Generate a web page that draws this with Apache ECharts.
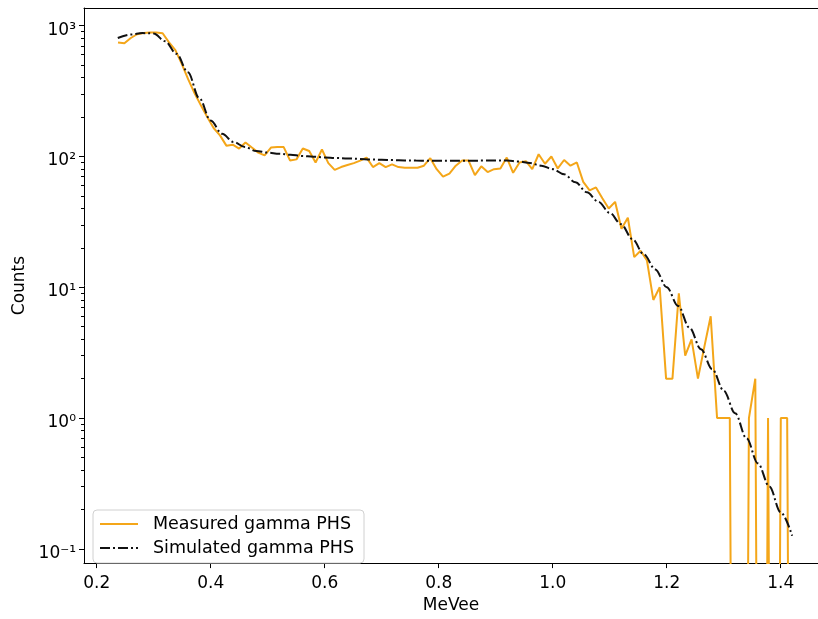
<!DOCTYPE html>
<html>
<head>
<meta charset="utf-8">
<script src="https://cdn.jsdelivr.net/npm/echarts@6/dist/echarts.min.js"></script>
<style>
html,body{margin:0;padding:0;background:#fff;}
#chart{width:818px;height:619px;}
</style>
</head>
<body>
<div id="chart"></div>
<script>
// measured gamma PHS, one count per bin (MeVee)
const binStart = 0.2374
const binWidth = 0.01118
const measured = [745,735,805,860,880,885,885,875,745,650,
  510,390,305,246,200,165,145,121,123,115,
  128,117,107,102,117,118,118,93,95,115,
  110,90,113,89,79,83,86,89,93,98,
  83,89,83,87,83,82,82,82,85,97,
  80,70,74,85,93,93,72,84,76,80,
  81,98,75,90,92,80,104,88,100,81,
  94,85,90,64,55,58,48,40,45,28,
  34,17,19,16,8,10,2,2,9,3,
  4,2,3.5,6,1,1,1,0,0,1,
  2,0,1,0,1,1,0]

// simulated gamma PHS
const simE = [0.237,0.26,0.28,0.30,0.32,0.34,0.36,0.38,0.40,0.42,
  0.44,0.46,0.48,0.50,0.52,0.54,0.56,0.58,0.60,0.62,
  0.64,0.66,0.68,0.70,0.72,0.74,0.76,0.78,0.80,0.82,
  0.84,0.86,0.88,0.90,0.92,0.94,0.96,0.98,1.00,1.02,
  1.04,1.06,1.08,1.10,1.12,1.14,1.16,1.18,1.20,1.22,
  1.24,1.26,1.28,1.30,1.32,1.34,1.36,1.38,1.40,1.42]
const simCounts = [805,856,878,872,760,610,440,278,188,149,
  129,118,110,107,105,103,101,99.5,98.3,97.4,
  96.6,95.8,95,94.4,93.8,93.3,93,92.8,92.8,92.8,
  92.8,92.8,93,93,93,91.5,89,85,80,73,
  63.4,53.2,45.1,37,30.3,23.3,17.8,13.7,10,7.2,
  4.9,3.36,2.36,1.62,1.09,0.70,0.45,0.30,0.19,0.126]

const xTicks = [0.2,0.4,0.6,0.8,1.0,1.2,1.4]
const yTicks = [0.1,1,10,100,1000]
const yMinor = [0.2,0.3,0.4,0.5,0.6,0.7,0.8,0.9,2,3,4,5,6,7,8,9,
  20,30,40,50,60,70,80,90,200,300,400,500,600,700,800,900]
const supers = {'-1':'10⁻¹','0':'10⁰','1':'10¹','2':'10²','3':'10³'}

const font = 'DejaVu Sans'
const xMin = 0.1777, xMax = 1.4654
const yMin = 0.0778, yMax = 1365

const chart = echarts.init(document.getElementById('chart'))

// zero counts can't sit on a log axis, push them far below the frame (clipped)
const measuredData = measured.map((c, i) => [binStart + i * binWidth, c > 0 ? c : 1e-9])
const simData = simE.map((e, i) => [e, simCounts[i]])

const option = {
  animation: false,
  textStyle: {fontFamily: font},
  grid: {left: 84, right: 0, top: 8, bottom: 47},
  legend: {
    orient: 'vertical',
    left: 93,
    top: 510,
    itemWidth: 38,
    itemHeight: 14,
    itemGap: 4,
    padding: [4, 10, 5, 6],
    borderColor: '#d0d0d0',
    borderWidth: 1,
    borderRadius: 4,
    backgroundColor: 'rgba(255,255,255,0.8)',
    // hide the round marker ECharts puts in the middle of line legend icons
    itemStyle: {color: 'transparent', borderWidth: 0},
    textStyle: {fontFamily: font, fontSize: 17.5, color: '#000', lineHeight: 20, padding: [0, 0, 0, 10]},
    data: ['Measured gamma PHS', 'Simulated gamma PHS']
  },
  xAxis: [{
    type: 'value',
    min: xMin, max: xMax,
    name: 'MeVee',
    nameLocation: 'middle',
    nameGap: 27,
    nameTextStyle: {fontFamily: font, fontSize: 17, color: '#000'},
    axisLine: {show: true, onZero: false, lineStyle: {color: '#000', width: 1}},
    axisTick: {show: true, length: 5, customValues: xTicks, lineStyle: {color: '#000'}},
    axisLabel: {customValues: xTicks, margin: 12, fontSize: 17, color: '#000', fontFamily: font,
      formatter: v => v.toFixed(1)},
    splitLine: {show: false}
  }, {
    type: 'value',
    position: 'top',
    min: xMin, max: xMax,
    axisLine: {show: true, onZero: false, lineStyle: {color: '#000', width: 1}},
    axisTick: {show: false},
    axisLabel: {show: false},
    splitLine: {show: false}
  }],
  yAxis: [{
    type: 'log',
    min: yMin, max: yMax,
    name: 'Counts',
    nameLocation: 'middle',
    nameGap: 52,
    nameTextStyle: {fontFamily: font, fontSize: 17, color: '#000'},
    axisLine: {show: true, lineStyle: {color: '#000', width: 1}},
    axisTick: {show: true, length: 5, customValues: yTicks, lineStyle: {color: '#000'}},
    axisLabel: {customValues: yTicks, margin: 8,
      formatter: v => '{t|' + (supers[String(Math.round(Math.log10(v)))] || '') + '}',
      rich: {t: {fontSize: 17, color: '#000', fontFamily: font, padding: [9, 0, 0, 0]}}},
    splitLine: {show: false}
  }, {
    type: 'log',
    min: yMin, max: yMax,
    position: 'left',
    axisLine: {show: false},
    axisTick: {show: true, length: 3, customValues: yMinor, lineStyle: {color: '#000'}},
    axisLabel: {show: false},
    splitLine: {show: false}
  }],
  series: [{
    name: 'Measured gamma PHS',
    type: 'line',
    data: measuredData,
    symbol: 'none',
    clip: true,
    lineStyle: {color: '#f4a619', width: 2},
    itemStyle: {color: '#f4a619'}
  }, {
    name: 'Simulated gamma PHS',
    type: 'line',
    data: simData,
    symbol: 'none',
    smooth: 0.35,
    smoothMonotone: 'x',
    clip: true,
    lineStyle: {color: '#111', width: 2, type: [10, 3, 2, 3]},
    itemStyle: {color: '#111'}
  }]
}

chart.setOption(option)
</script>
</body>
</html>
